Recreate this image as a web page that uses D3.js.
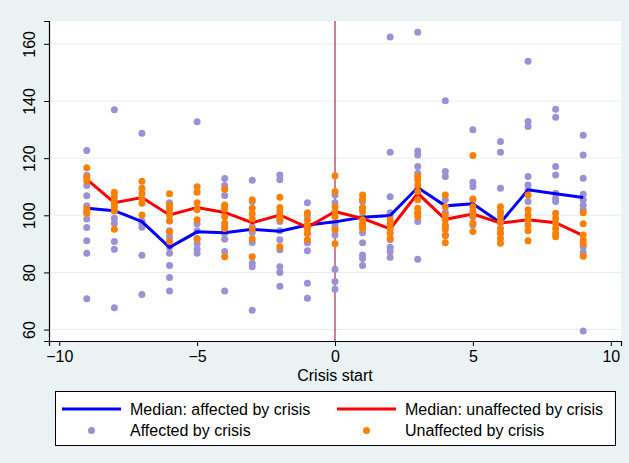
<!DOCTYPE html>
<html>
<head>
<meta charset="utf-8">
<script src="https://cdn.jsdelivr.net/npm/d3@7"></script>
<style>
  html, body { margin: 0; padding: 0; background: #eaf2f3; }
  svg { display: block; font-family: "Liberation Sans", Arial, sans-serif; }
</style>
</head>
<body>
<div id="viz"></div>
<script>
(function() {

// Years relative to the crisis start
let years = d3.range(-9, 10);

// Median lines, one value per year
let medianAffected = [102.5, 101.6, 97.8, 88.8, 94.2, 93.9, 95.1, 94.4, 96.6, 97.7,
  99.3, 99.9, 109.7, 103.3, 104, 97.4, 108.9, 107.5, 106.2];
let medianUnaffected = [112.6, 104.4, 106.2, 100.1, 102.7, 101, 97.4, 100.1, 95.8, 101.3,
  98.9, 95.2, 107.7, 98.6, 100.4, 97.3, 98.4, 97.4, 92.9];

// Individual observations, one list per year
let affected = [
  [122.7, 114, 110.4, 106.8, 103.3, 101.3, 98.7, 95.7, 91.1, 86.7, 70.8],
  [136.9, 104, 101.6, 99, 97.2, 90.8, 88.1, 67.6],
  [128.7, 98, 97, 95.8, 86, 72.3],
  [104.4, 103, 98, 94.6, 92.5, 88.8, 86.7, 82.4, 78.2, 73.5],
  [132.7, 97, 94.6, 91.9, 90, 88.1, 86.7],
  [112.9, 110.4, 106.9, 103, 96, 93.9, 93.7, 91.6, 87.3, 73.5],
  [112.3, 104.8, 96, 95.1, 94, 90.5, 83.2, 82, 66.8],
  [114.1, 112.4, 97.8, 94.6, 91.4, 87.9, 82, 80, 75.2],
  [104.4, 100, 96.6, 93.7, 90.4, 87.6, 76.2, 71],
  [107.1, 104.4, 97.2, 96, 93.1, 81.1, 76.8, 74.1],
  [104.8, 102.5, 99.5, 97, 93.9, 90.4, 86.1, 84.9, 82.4],
  [162.4, 122.1, 106.5, 100.9, 99.9, 91.4, 88.8, 87.3, 85.3],
  [164.1, 122.5, 121.1, 117.1, 114.7, 109.5, 101, 97.8, 84.6],
  [140.1, 115.3, 113.6, 105.4, 101, 96, 93.1],
  [129.9, 111.6, 110, 105.4, 99.5, 96.6],
  [125.8, 122.1, 109.5, 100.9, 97.4, 93.7],
  [153.9, 132.8, 131.1, 113.6, 110.6, 108.9, 104.8],
  [137.1, 134.3, 117.1, 114.1, 107.7, 106, 104.8],
  [128, 121.1, 113, 107.4, 105.4, 103.5, 101.9, 89, 87, 59.5]
];
let unaffected = [
  [116.6, 113.3, 112, 102.2, 100.7],
  [108.1, 106.5, 104.8, 103, 101.5, 95.1],
  [111.9, 109.5, 107.5, 105.7, 104.2, 100.1],
  [107.5, 103.6, 101.9, 100.1, 98.1, 94.2, 90.8],
  [110, 108.1, 104.4, 101.9, 98.4, 91.7],
  [109.1, 103.6, 102.1, 99.5, 97.2, 95.4, 85.5],
  [105.4, 102.5, 100.5, 98.7, 95.2, 91.8, 85.5],
  [106.3, 102.7, 101.3, 99.5, 98.4, 89],
  [100.9, 98.4, 96.6, 95.4, 93.7, 91.4],
  [113.8, 108.3, 103, 101.3, 99.5, 94.9, 90],
  [107.1, 105.6, 102.7, 101.3, 98.4, 96.6, 95.4],
  [98.4, 97, 95.4, 93.7, 91.9],
  [113.6, 112.4, 110.6, 108.3, 105.4, 102.5, 100.7, 99.5],
  [107.1, 103, 100.1, 98.4, 96.6, 95.1, 92.8, 90.4],
  [120.9, 105.7, 103, 101.3, 99.8, 97.2, 94.3],
  [103, 101.3, 99.5, 97.8, 95.4, 93.7, 91.9, 90.2],
  [107.1, 101.9, 100.1, 98.4, 96.6, 94.6, 91.1],
  [100.7, 98.9, 97.2, 95.4, 93.7, 92.5],
  [100.9, 97, 93.1, 91.4, 90, 85.7]
];

let xTicks = [-10, -5, 0, 5, 10];
let yTicks = [60, 80, 100, 120, 140, 160];

let canvasWidth = 629;
let canvasHeight = 463;
let plotLeft = 49, plotRight = 621, plotTop = 21, plotBottom = 341;
let fontSize = 16;

let purple = "#9a92d3";
let orange = "#ff8000";

let svg = d3.select("#viz").append("svg")
  .attr("width", canvasWidth)
  .attr("height", canvasHeight);

svg.append("rect")
  .attr("width", canvasWidth).attr("height", canvasHeight)
  .attr("fill", "#eaf2f3");

let x = d3.scaleLinear().domain([-10.37, 10.37]).range([plotLeft, plotRight]);
let y = d3.scaleLinear().domain([56, 168]).range([plotBottom, plotTop]);

svg.append("rect")
  .attr("x", plotLeft).attr("y", plotTop)
  .attr("width", plotRight - plotLeft).attr("height", plotBottom - plotTop)
  .attr("fill", "white");

// grid lines
svg.append("g").selectAll("line")
  .data(yTicks)
  .enter().append("line")
  .attr("x1", plotLeft).attr("x2", plotRight)
  .attr("y1", d => y(d)).attr("y2", d => y(d))
  .attr("stroke", "#e6eef0")
  .attr("stroke-width", 1);

// crisis start line
svg.append("line")
  .attr("x1", x(0)).attr("x2", x(0))
  .attr("y1", plotTop).attr("y2", plotBottom)
  .attr("stroke", "#c8506e")
  .attr("stroke-width", 1.5);

function flatten(groups) {
  let result = [];
  for (let i = 0; i < groups.length; i++) {
    for (let j = 0; j < groups[i].length; j++) {
      result.push({ year: years[i], value: groups[i][j] });
    }
  }
  return result;
}

let r = 3.5;

svg.append("g").selectAll("circle")
  .data(flatten(affected))
  .enter().append("circle")
  .attr("cx", d => x(d.year))
  .attr("cy", d => y(d.value))
  .attr("r", r)
  .attr("fill", purple);

let line = d3.line()
  .x((d, i) => x(years[i]))
  .y(d => y(d));

svg.append("path")
  .attr("d", line(medianAffected))
  .attr("fill", "none")
  .attr("stroke", "#0000ff")
  .attr("stroke-width", 3);

svg.append("path")
  .attr("d", line(medianUnaffected))
  .attr("fill", "none")
  .attr("stroke", "#ff0000")
  .attr("stroke-width", 3);

svg.append("g").selectAll("circle")
  .data(flatten(unaffected))
  .enter().append("circle")
  .attr("cx", d => x(d.year))
  .attr("cy", d => y(d.value))
  .attr("r", r)
  .attr("fill", orange);

// axes
let xAxis = svg.append("g")
  .attr("transform", "translate(0," + plotBottom + ")")
  .call(d3.axisBottom(x).tickValues(xTicks).tickSizeOuter(0).tickSize(5).tickPadding(5)
    .tickFormat(d => d < 0 ? "\u2212" + Math.abs(d) : d));
xAxis.select(".domain").attr("stroke", "#000").attr("stroke-width", 1.2);
xAxis.selectAll("text").attr("font-size", fontSize).attr("fill", "#000")
  .attr("font-family", "Liberation Sans, Arial, sans-serif");

let yAxis = svg.append("g")
  .attr("transform", "translate(" + plotLeft + ",0)")
  .call(d3.axisLeft(y).tickValues(yTicks).tickSizeOuter(0).tickSize(5).tickFormat(d => d));
yAxis.select(".domain").attr("stroke", "#000").attr("stroke-width", 1.2);
yAxis.selectAll("text")
  .attr("font-size", fontSize).attr("fill", "#000")
  .attr("font-family", "Liberation Sans, Arial, sans-serif")
  .attr("text-anchor", "middle")
  .attr("x", 0).attr("dy", 0)
  .attr("transform", "translate(-14,0) rotate(-90)");

svg.append("text")
  .attr("x", x(0)).attr("y", 381)
  .attr("text-anchor", "middle")
  .attr("font-size", fontSize)
  .text("Crisis start");

// legend
let legend = svg.append("g");
legend.append("rect")
  .attr("x", 55.5).attr("y", 391.5)
  .attr("width", 560).attr("height", 54)
  .attr("fill", "white")
  .attr("stroke", "#000")
  .attr("stroke-width", 1);

let legendItems = [
  { label: "Median: affected by crisis", type: "line", color: "#0000ff", x: 62, row: 0 },
  { label: "Median: unaffected by crisis", type: "line", color: "#ff0000", x: 337, row: 0 },
  { label: "Affected by crisis", type: "dot", color: purple, x: 62, row: 1 },
  { label: "Unaffected by crisis", type: "dot", color: orange, x: 337, row: 1 }
];

legendItems.forEach(item => {
  let cy = 409 + item.row * 21.5;
  if (item.type === "line") {
    legend.append("line")
      .attr("x1", item.x).attr("x2", item.x + 59)
      .attr("y1", cy).attr("y2", cy)
      .attr("stroke", item.color).attr("stroke-width", 3);
  } else {
    legend.append("circle")
      .attr("cx", item.x + 29.5).attr("cy", cy)
      .attr("r", r).attr("fill", item.color);
  }
  legend.append("text")
    .attr("x", item.x + 68).attr("y", cy + 5.5)
    .attr("font-size", fontSize)
    .text(item.label);
});

})();
</script>
</body>
</html>
